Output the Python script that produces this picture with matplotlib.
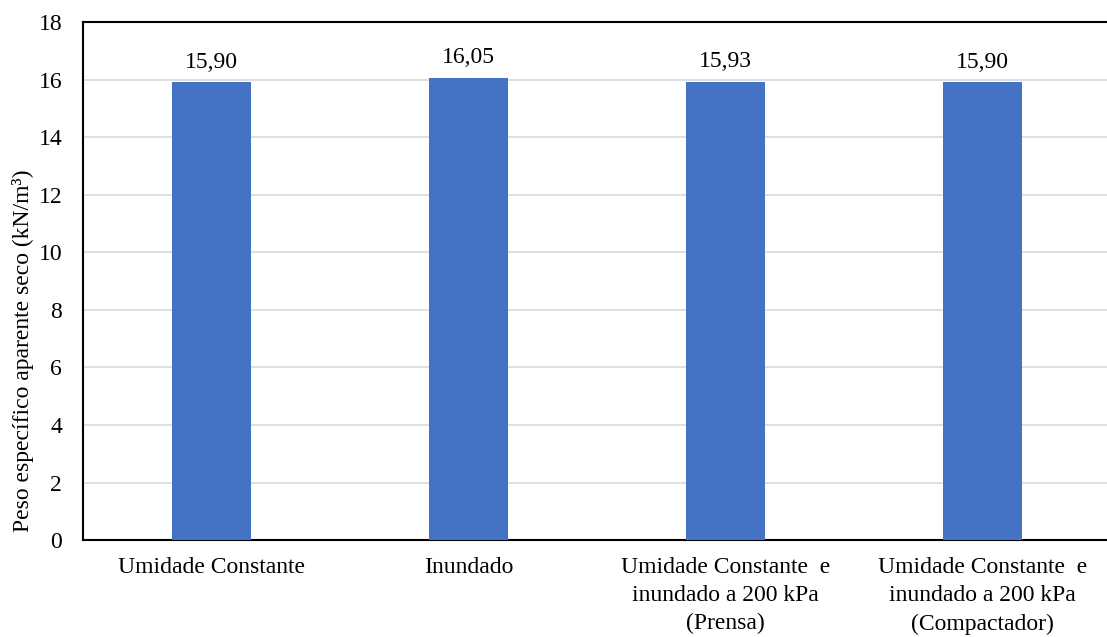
import matplotlib.pyplot as plt

plt.rcParams['font.family'] = ['Liberation Serif', 'DejaVu Serif']

categorias = [
    'Umidade Constante',
    'Inundado',
    'Umidade Constante  e\ninundado a 200 kPa\n(Prensa)',
    'Umidade Constante  e\ninundado a 200 kPa\n(Compactador)',
]
peso_seco = [15.90, 16.05, 15.93, 15.90]
rotulos = ['15,90', '16,05', '15,93', '15,90']
yticks = [0, 2, 4, 6, 8, 10, 12, 14, 16, 18]

fig = plt.figure(figsize=(11.07, 6.37), dpi=100)
ax = fig.add_axes([0.075, 0.152, 0.925, 0.8135])

x = range(len(categorias))
barras = ax.bar(x, peso_seco, width=0.31, color='#4472C4', zorder=3)

for b, txt in zip(barras, rotulos):
    ax.annotate(txt, (b.get_x() + b.get_width() / 2, b.get_height()),
                xytext=(0, 7), textcoords='offset points',
                ha='center', va='bottom', fontsize=17)

ax.set_ylim(0, 18)
ax.set_xlim(-0.5, 3.484)
ax.set_yticks(yticks)
ax.set_xticks(list(x))
ax.set_xticklabels(categorias, fontsize=17, linespacing=1.45)
ax.tick_params(axis='y', length=0, pad=15, labelsize=17)
ax.tick_params(axis='x', length=0, pad=12)
ax.yaxis.grid(True, color='#d9d9d9', linewidth=1.2, zorder=0)
ax.set_axisbelow(True)

for s in ax.spines.values():
    s.set_linewidth(1.5)
    s.set_color('black')
ax.spines['right'].set_visible(False)

ax.set_ylabel('Peso específico aparente seco (kN/m³)', fontsize=17)
ax.yaxis.set_label_coords(-0.048, 0.365)

fig.savefig('out.png', dpi=100)
